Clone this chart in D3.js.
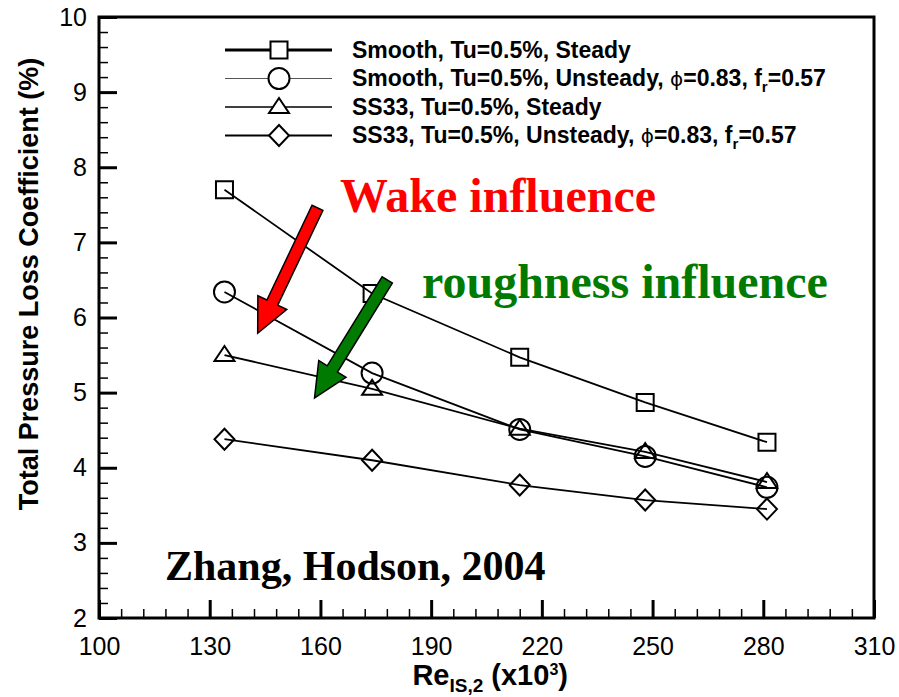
<!DOCTYPE html>
<html>
<head>
<meta charset="utf-8">
<script src="https://cdn.jsdelivr.net/npm/d3@7"></script>
<style>
  body { margin: 0; background: #fff; }
  svg { display: block; }
</style>
</head>
<body>
<div id="chart"></div>
<script>
// Re (x10^3) at which the cascade was measured
var reValues = [134, 174, 214, 248, 281];

var smoothSteady   = [7.70, 6.32, 5.47, 4.87, 4.34];
var smoothUnsteady = [6.34, 5.26, 4.51, 4.15, 3.74];
var ss33Steady     = [5.50, 5.05, 4.52, 4.21, 3.81];
var ss33Unsteady   = [4.38, 4.10, 3.77, 3.57, 3.45];

var xTicks = [100, 130, 160, 190, 220, 250, 280, 310];
var yTicks = [2, 3, 4, 5, 6, 7, 8, 9, 10];

var seriesNames = ["Smooth, Tu=0.5%, Steady", "Smooth, Tu=0.5%, Unsteady", "SS33, Tu=0.5%, Steady", "SS33, Tu=0.5%, Unsteady"];

var width = 899, height = 697;
var margin = {top: 17, right: 25, bottom: 79, left: 99};
var w = width - margin.left - margin.right;
var h = height - margin.top - margin.bottom;

var svg = d3.select("#chart")
  .append("svg")
    .attr("width", width)
    .attr("height", height)
  .append("g")
    .attr("transform", "translate(" + margin.left + "," + margin.top + ")");

var x = d3.scaleLinear().domain([100, 310]).range([0, w]);
var y = d3.scaleLinear().domain([2, 10]).range([h, 0]);

// minor ticks
var xMinor = d3.range(100, 310.1, 6).filter(function(v) { return (v - 100) % 30 !== 0; });
var yMinor = d3.range(2, 10.01, 0.2).filter(function(v) { return Math.abs(v - Math.round(v)) > 0.01; });

svg.append("g")
  .attr("transform", "translate(0," + h + ")")
  .call(d3.axisBottom(x).tickValues(xMinor).tickSize(-9).tickFormat(""))
  .call(function(g) { g.select(".domain").remove(); g.selectAll("line").attr("stroke-width", 1.5); });
svg.append("g")
  .call(d3.axisLeft(y).tickValues(yMinor).tickSize(-9).tickFormat(""))
  .call(function(g) { g.select(".domain").remove(); g.selectAll("line").attr("stroke-width", 1.5); });

var xAxis = svg.append("g")
  .attr("transform", "translate(0," + h + ")")
  .call(d3.axisBottom(x).tickValues(xTicks).tickSize(-18).tickPadding(13));
xAxis.select(".domain").remove();
xAxis.selectAll("line").attr("stroke-width", 3);
xAxis.selectAll("text").attr("font-family", "Arial, 'Liberation Sans', sans-serif").attr("font-size", 25).attr("fill", "#000").attr("dy", "0.95em");

var yAxis = svg.append("g")
  .call(d3.axisLeft(y).tickValues(yTicks).tickSize(-18).tickPadding(12));
yAxis.select(".domain").remove();
yAxis.selectAll("line").attr("stroke-width", 3);
yAxis.selectAll("text").attr("font-family", "Arial, 'Liberation Sans', sans-serif").attr("font-size", 25).attr("fill", "#000");

// frame
svg.append("rect")
  .attr("x", 0).attr("y", 0).attr("width", w).attr("height", h)
  .attr("fill", "none").attr("stroke", "#000").attr("stroke-width", 3);

// axis titles
svg.append("text")
  .attr("transform", "translate(" + (-61) + "," + 267 + ") rotate(-90)")
  .attr("text-anchor", "middle")
  .attr("font-family", "Arial, 'Liberation Sans', sans-serif")
  .attr("font-weight", "bold")
  .attr("font-size", 27)
  .text("Total Pressure Loss Coefficient (%)");

var xt = svg.append("text")
  .attr("x", x(206)).attr("y", h + 67)
  .attr("text-anchor", "middle")
  .attr("font-family", "Arial, 'Liberation Sans', sans-serif")
  .attr("font-weight", "bold")
  .attr("font-size", 29);
xt.append("tspan").text("Re");
xt.append("tspan").attr("font-size", 19).attr("dy", 7).text("IS,2");
xt.append("tspan").attr("dy", -7).text(" (x10");
xt.append("tspan").attr("font-size", 16).attr("dy", -10).text("3");
xt.append("tspan").attr("dy", 10).text(")");

// symbols: square, circle, flat triangle, diamond
var symSquare = function(p) { p.rect(-8.5, -8.5, 17, 17); };
var symCircle = function(p) { p.arc(0, 0, 10.5, 0, 2 * Math.PI); };
var symTriangle = function(p) { p.moveTo(0, -9); p.lineTo(10, 6); p.lineTo(-10, 6); p.closePath(); };
var symDiamond = function(p) { p.moveTo(0, -10.5); p.lineTo(10, 0); p.lineTo(0, 10.5); p.lineTo(-10, 0); p.closePath(); };
var symbols = [symSquare, symCircle, symTriangle, symDiamond];
var legendWidths = [3, 1, 1.5, 2];

function symPath(k) {
  var p = d3.path();
  symbols[k](p);
  return p.toString();
}

var line = d3.line()
  .x(function(d, i) { return x(reValues[i]); })
  .y(function(d) { return y(d); });

var allSeries = [smoothSteady, smoothUnsteady, ss33Steady, ss33Unsteady];

allSeries.forEach(function(s, k) {
  svg.append("path")
    .datum(s)
    .attr("fill", "none")
    .attr("stroke", "#000")
    .attr("stroke-width", 1.8)
    .attr("d", line);
});

allSeries.forEach(function(s, k) {
  svg.selectAll(".sym" + k)
    .data(s)
    .enter()
    .append("path")
      .attr("transform", function(d, i) { return "translate(" + x(reValues[i]) + "," + y(d) + ")"; })
      .attr("d", symPath(k))
      .attr("fill", "none")
      .attr("stroke", "#000")
      .attr("stroke-width", 2);
});

// legend
var legend = svg.append("g").attr("transform", "translate(126,33)");
seriesNames.forEach(function(name, k) {
  var g = legend.append("g").attr("transform", "translate(0," + (k * 28.5) + ")");
  g.append("line")
    .attr("x1", 0).attr("x2", 107)
    .attr("stroke", k == 1 ? "#555" : "#000")
    .attr("stroke-width", legendWidths[k]);
  g.append("path")
    .attr("transform", "translate(54,0)")
    .attr("d", symPath(k))
    .attr("fill", "#fff")
    .attr("stroke", "#000")
    .attr("stroke-width", 2);
  var t = g.append("text")
    .attr("x", 127).attr("y", 7.5)
    .attr("fill", "#000")
    .attr("font-family", "Arial, 'Liberation Sans', sans-serif")
    .attr("font-weight", "bold")
    .attr("font-size", 23);
  t.append("tspan").text(name);
  if (k == 1 || k == 3) {
    t.append("tspan").text(", ");
    t.append("tspan").attr("font-family", "'DejaVu Sans', sans-serif").attr("font-weight", "normal")
      .attr("font-size", 20).attr("fill", "#000").text("\u03d5");
    t.append("tspan").text("=0.83, f");
    t.append("tspan").attr("font-size", 15).attr("dy", 6).text("r");
    t.append("tspan").attr("dy", -6).text("=0.57");
  }
});

// annotation arrows (positions in data units)
var arrows = [
  {from: [159.2, 7.46], to: [143.0, 5.79], color: "#ff0000"},
  {from: [178.1, 6.50], to: [158.4, 4.93], color: "#007a00"}
];
arrows.forEach(function(a) {
  var x0 = x(a.from[0]), y0 = y(a.from[1]);
  var x1 = x(a.to[0]), y1 = y(a.to[1]);
  var len = Math.hypot(x1 - x0, y1 - y0);
  var ang = Math.atan2(y1 - y0, x1 - x0) * 180 / Math.PI;
  var sw = 6, hw = 16, hl = 34;
  var pts = [[0, -sw], [len - hl, -sw], [len - hl, -hw], [len, 0], [len - hl, hw], [len - hl, sw], [0, sw]];
  svg.append("polygon")
    .attr("transform", "translate(" + x0 + "," + y0 + ") rotate(" + ang + ")")
    .attr("points", pts.map(function(p) { return p.join(","); }).join(" "))
    .attr("fill", a.color)
    .attr("stroke", "#000")
    .attr("stroke-width", 1.5);
});

// annotation text
svg.append("text")
  .attr("x", 241).attr("y", 195)
  .attr("font-family", "'Times New Roman', 'Liberation Serif', serif")
  .attr("font-weight", "bold")
  .attr("font-size", 48)
  .attr("fill", "#ff0000")
  .text("Wake influence");
svg.append("text")
  .attr("x", 323).attr("y", 281)
  .attr("font-family", "'Times New Roman', 'Liberation Serif', serif")
  .attr("font-weight", "bold")
  .attr("font-size", 48)
  .attr("fill", "#007a00")
  .text("roughness influence");
svg.append("text")
  .attr("x", 66).attr("y", 563)
  .attr("font-family", "'Times New Roman', 'Liberation Serif', serif")
  .attr("font-weight", "bold")
  .attr("font-size", 42)
  .attr("fill", "#000")
  .text("Zhang, Hodson, 2004");
</script>
</body>
</html>
